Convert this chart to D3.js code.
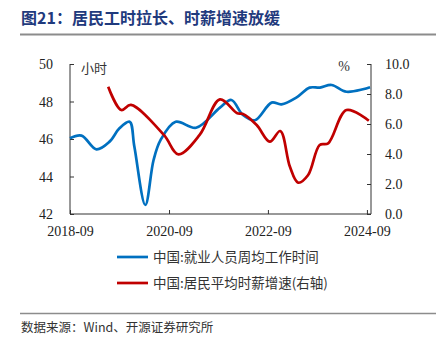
<!DOCTYPE html>
<html><head><meta charset="utf-8">
<script src="https://cdn.jsdelivr.net/npm/d3@7"></script>
<style>body{margin:0;background:#fff;}svg{display:block;}</style>
</head><body>
<script>
const titleText = "图21：居民工时拉长、时薪增速放缓";
const sourceText = "数据来源：Wind、开源证券研究所";
const hoursDates = ["2018-09-01","2018-11-25","2019-03-15","2019-06-20","2019-09-01","2019-11-15","2019-12-20","2020-03-10","2020-05-10","2020-07-01","2020-10-20","2021-03-20","2021-09-12","2021-12-05","2022-03-01","2022-05-28","2022-09-28","2022-12-10","2023-04-01","2023-07-06","2023-09-20","2023-12-15","2024-04-03","2024-09-24"];
const hoursValues = [46.04,46.18,45.45,45.86,46.57,46.92,45.6,42.48,44.88,45.95,46.92,46.6,47.67,48.08,47.28,47.0,47.94,47.85,48.22,48.74,48.74,48.88,48.52,48.76];
const wageDates = ["2019-06-10","2019-09-15","2019-11-25","2020-07-25","2020-11-10","2021-04-15","2021-09-12","2022-01-18","2022-03-01","2022-06-10","2022-09-15","2022-12-01","2023-02-10","2023-04-12","2023-06-25","2023-09-18","2023-11-20","2024-04-03","2024-09-15"];
const wageValues = [8.49,6.93,7.27,5.27,3.98,5.27,7.64,6.71,6.67,5.93,4.82,5.53,3.16,2.09,2.6,4.6,4.71,6.93,6.22];
const xTickLabels = ["2018-09","2020-09","2022-09","2024-09"];
const leftTicks = [42,44,46,48,50];
const rightTicks = [0,2,4,6,8,10];
const seriesNames = ["中国:就业人员周均工作时间","中国:居民平均时薪增速(右轴)"];
const seriesColors = ["#0070C0","#C00000"];

const W=436,H=343;
const svg=d3.select("body").append("svg").attr("width",W).attr("height",H);
const parse=d3.timeParse("%Y-%m-%d"), parseM=d3.timeParse("%Y-%m");
const L=70,R=371,T=64,B=214;
const x=d3.scaleTime().domain([parseM("2018-09"),parseM("2024-10")]).range([L,R]);
const yL=d3.scaleLinear().domain([42,50]).range([B,T]);
const yR=d3.scaleLinear().domain([0,10]).range([B,T]);

svg.append("text").attr("x",21).attr("y",24).text(titleText)
  .style("font-family","'Noto Sans CJK SC'").style("font-weight","bold").style("font-size","16px").attr("fill","#1f3a7d");
svg.append("line").attr("x1",20).attr("x2",436).attr("y1",34.5).attr("y2",34.5).attr("stroke","#8c8c8c").attr("stroke-width",2);

const serif="'Liberation Serif', 'Times New Roman', serif";
const gL=svg.append("g").attr("transform",`translate(${L},0)`)
  .call(d3.axisRight(yL).tickValues(leftTicks).tickSize(4).tickFormat(d3.format("d")));
gL.select(".domain").remove();
gL.selectAll("text").attr("x",-17).attr("text-anchor","end");
const gR=svg.append("g").attr("transform",`translate(${R},0)`)
  .call(d3.axisLeft(yR).tickValues(rightTicks).tickSize(4).tickFormat(d3.format(".1f")));
gR.select(".domain").remove();
gR.selectAll("text").attr("x",14).attr("text-anchor","start");
const gX=svg.append("g").attr("transform",`translate(0,${B})`)
  .call(d3.axisTop(x).tickValues(xTickLabels.map(parseM)).tickSize(4).tickFormat(d3.timeFormat("%Y-%m")));
gX.select(".domain").remove();
gX.selectAll("text").attr("y",22).attr("dy","0");
[gL,gR,gX].forEach(g=>{g.attr("font-family",null).attr("font-size",null);
  g.selectAll("text").style("font-family",serif).style("font-size","14px").attr("fill","#222");
  g.selectAll("line").attr("stroke","#333");});
gL.selectAll("text").attr("dy","0.35em");gR.selectAll("text").attr("dy","0.35em");
svg.append("line").attr("x1",L).attr("x2",L).attr("y1",T).attr("y2",B).attr("stroke","#333");
svg.append("line").attr("x1",R).attr("x2",R).attr("y1",T).attr("y2",B).attr("stroke","#333");
svg.append("line").attr("x1",L).attr("x2",R).attr("y1",B).attr("y2",B).attr("stroke","#333");

svg.append("text").attr("x",81).attr("y",73).text("小时").style("font-family","'Noto Sans CJK SC'").style("font-size","13px").attr("fill","#333");
svg.append("text").attr("x",350).attr("y",71).attr("text-anchor","end").text("%").style("font-family",serif).style("font-size","14px").attr("fill","#333");

const lineL=d3.line().x(d=>x(d[0])).y(d=>yL(d[1])).curve(d3.curveCatmullRom.alpha(0.5));
const lineR=d3.line().x(d=>x(d[0])).y(d=>yR(d[1])).curve(d3.curveCatmullRom.alpha(0.5));
svg.append("path").datum(hoursDates.map((d,i)=>[parse(d),hoursValues[i]])).attr("d",lineL)
  .attr("fill","none").attr("stroke",seriesColors[0]).attr("stroke-width",2.7);
svg.append("path").datum(wageDates.map((d,i)=>[parse(d),wageValues[i]])).attr("d",lineR)
  .attr("fill","none").attr("stroke",seriesColors[1]).attr("stroke-width",2.7);

seriesNames.forEach((n,i)=>{
  const yy=257+i*26;
  svg.append("line").attr("x1",117).attr("x2",148).attr("y1",yy).attr("y2",yy).attr("stroke",seriesColors[i]).attr("stroke-width",2.7);
  svg.append("text").attr("x",153).attr("y",yy).attr("dy","0.35em").text(n)
    .style("font-family","'Noto Sans CJK SC'").style("font-size","13.5px").attr("fill","#333");
});

svg.append("line").attr("x1",20).attr("x2",436).attr("y1",313.5).attr("y2",313.5).attr("stroke","#8c8c8c").attr("stroke-width",1.5);
svg.append("text").attr("x",21).attr("y",332).text(sourceText).style("font-family","'Noto Sans CJK SC'").style("font-size","12.5px").attr("fill","#333");
</script>
</body></html>
